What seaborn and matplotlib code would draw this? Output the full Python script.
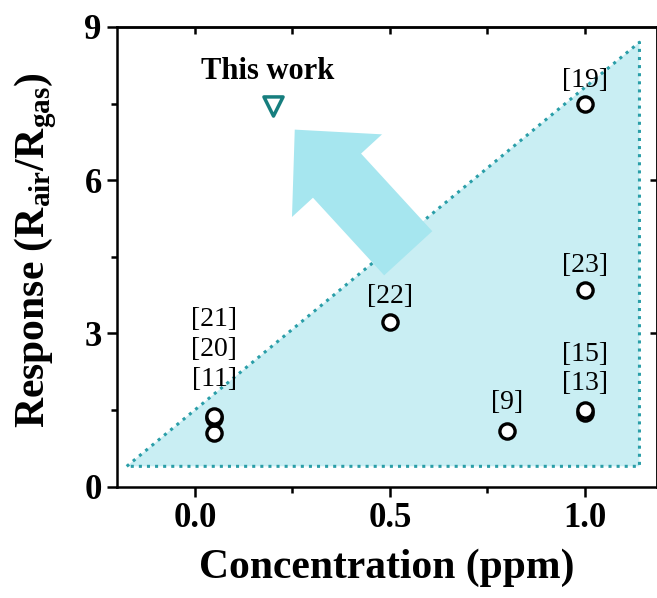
import matplotlib
matplotlib.use("Agg")
import matplotlib.pyplot as plt
import seaborn as sns

# Datos de referencia (concentración en ppm, respuesta Rair/Rgas)
ref_conc = [0.05, 0.05, 0.05, 0.5, 0.8, 1.0, 1.0, 1.0, 1.0]
ref_resp = [1.05, 1.35, 1.38, 3.23, 1.1, 1.45, 1.5, 3.85, 7.5]

# Este trabajo
work_conc = [0.2]
work_resp = [7.45]

# Etiquetas de referencias y su posición
label_text = ["[21]", "[20]", "[11]", "[22]", "[9]", "[15]", "[13]", "[23]", "[19]"]
label_x = [0.05, 0.05, 0.05, 0.5, 0.8, 1.0, 1.0, 1.0, 1.0]
label_y = [3.27, 2.68, 2.09, 3.72, 1.64, 2.58, 2.03, 4.34, 7.96]

# Región sombreada (triángulo)
region_x = [-0.175, 1.14, 1.14, -0.175]
region_y = [0.4, 8.7, 0.4, 0.4]

x_ticks = [0.0, 0.5, 1.0]
y_ticks = [0, 3, 6, 9]

FILL_CYAN = "#C9EEF3"
ARROW_CYAN = "#A6E6EF"
DOT_TEAL = "#2A9EA8"
MARK_TEAL = "#167E7E"

sns.set_theme(style="ticks")
plt.rcParams["font.family"] = ["Liberation Serif", "DejaVu Serif"]
plt.rcParams["mathtext.fontset"] = "custom"
plt.rcParams["mathtext.rm"] = "Liberation Serif"
plt.rcParams["mathtext.bf"] = "Liberation Serif:bold"
plt.rcParams["text.color"] = "black"
plt.rcParams["axes.labelcolor"] = "black"
plt.rcParams["xtick.color"] = "black"
plt.rcParams["ytick.color"] = "black"

fig = plt.figure(figsize=(6.57, 5.98), dpi=100)
ax = fig.add_axes([0.178, 0.186, 0.822, 0.769])

# Triángulo de fondo con borde punteado
ax.fill(region_x, region_y, color=FILL_CYAN, lw=0, zorder=1)
ax.plot(region_x, region_y, ls=":", lw=2.2, color=DOT_TEAL, zorder=2)

# Flecha grande
ax.annotate("", xy=(0.256, 6.99), xytext=(0.547, 4.57),
            arrowprops=dict(arrowstyle="simple,head_length=45,head_width=88,tail_width=47",
                            mutation_scale=1, fc=ARROW_CYAN, ec="none", lw=0,
                            shrinkA=0, shrinkB=0),
            zorder=3)

sns.scatterplot(x=ref_conc, y=ref_resp, ax=ax, marker="o", s=120,
                facecolor="white", edgecolor="black", linewidth=2.4, zorder=5)
sns.scatterplot(x=work_conc, y=work_resp, ax=ax, marker="v", s=190,
                facecolor="white", edgecolor=MARK_TEAL, linewidth=2.5, zorder=5)

for t, x, y in zip(label_text, label_x, label_y):
    ax.text(x, y, t, ha="center", va="center", fontsize=20, zorder=6)
ax.text(0.187, 8.12, "This work", ha="center", va="center",
        fontsize=22, weight="bold", zorder=6)

ax.set_xlim(-0.2, 1.185)
ax.set_ylim(0, 9)
ax.set_xticks(x_ticks)
ax.set_xticklabels([f"{v:.1f}" for v in x_ticks])
ax.set_yticks(y_ticks)
ax.set_xticks([0.25, 0.75], minor=True)
ax.set_yticks([1.5, 4.5, 7.5], minor=True)

for s in ax.spines.values():
    s.set_linewidth(1.8)
    s.set_color("black")
ax.tick_params(which="major", direction="out", length=7, width=1.8,
               labelsize=25, pad=4, color="black")
ax.tick_params(which="minor", direction="out", length=4, width=1.8, color="black")
for lab in ax.get_xticklabels() + ax.get_yticklabels():
    lab.set_fontweight("bold")

# Ejes superior y derecho con marcas hacia dentro
top = ax.secondary_xaxis("top")
top.set_xticks([0.0, 0.25, 0.5, 0.75, 1.0])
top.tick_params(direction="in", length=5, width=1.8, labeltop=False)
top.spines["top"].set_linewidth(1.8)
right = ax.secondary_yaxis("right")
right.set_yticks([3, 6])
right.tick_params(direction="in", length=5, width=1.8, labelright=False)
right.spines["right"].set_linewidth(1.8)

ax.set_xlabel("Concentration (ppm)", fontsize=30, weight="bold", labelpad=10)
ax.set_ylabel(r"Response (R$_{\mathbf{air}}$/R$_{\mathbf{gas}}$)",
              fontsize=30, weight="bold")
ax.yaxis.set_label_coords(-0.107, 0.515)

plt.savefig("out.png", dpi=100)
